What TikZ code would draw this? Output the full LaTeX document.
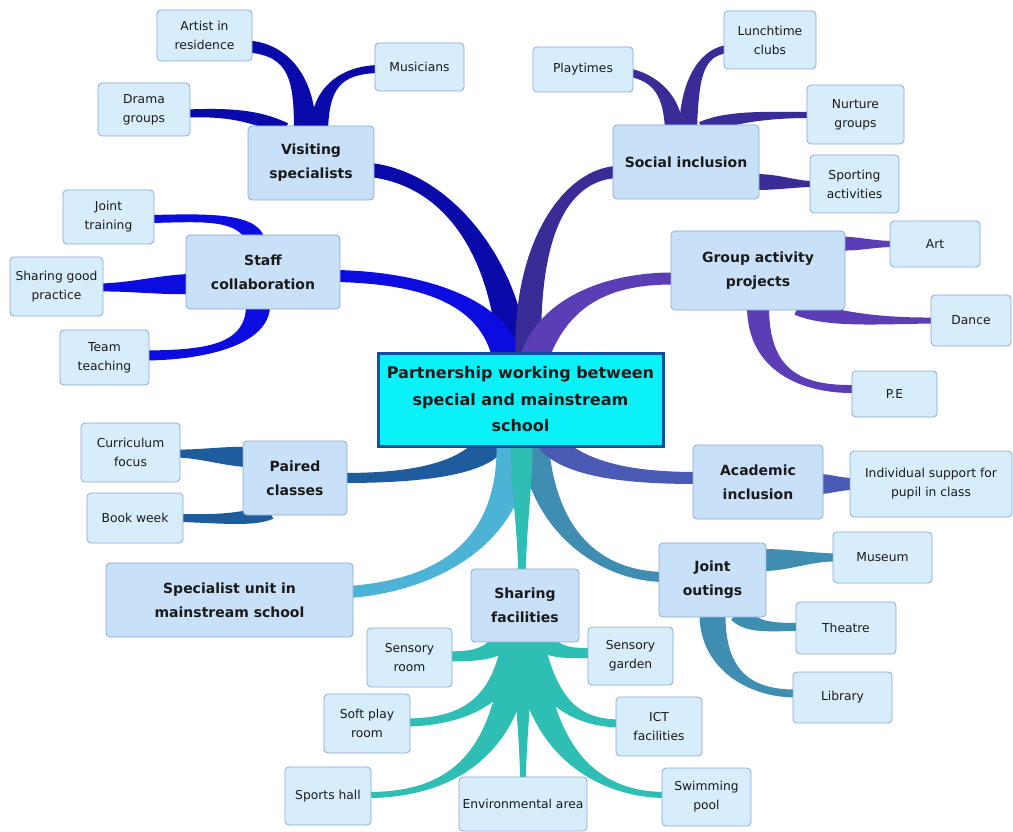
\documentclass[tikz,border=0pt]{standalone}
\usepackage{fontspec}
\setmainfont{DejaVu Sans}
\usetikzlibrary{calc,backgrounds}

\definecolor{cVis}{HTML}{0A0AAA}
\definecolor{cStaff}{HTML}{0C0CE0}
\definecolor{cSoc}{HTML}{3A2C96}
\definecolor{cGrp}{HTML}{5B3DB5}
\definecolor{cPair}{HTML}{1F5C9E}
\definecolor{cAcad}{HTML}{4B5BB5}
\definecolor{cSpec}{HTML}{4DB3D6}
\definecolor{cShare}{HTML}{2FBEB4}
\definecolor{cJoint}{HTML}{3F8DB0}
\definecolor{subfill}{HTML}{D7EDFC}
\definecolor{mainfill}{HTML}{C9E1F8}
\definecolor{boxline}{HTML}{8AAAD8}
\definecolor{hubfill}{HTML}{0AF2F8}
\definecolor{hubline}{HTML}{1050A0}
\definecolor{ink}{HTML}{1A1A1A}

% tapered branch: colour, start, control 1, control 2, end, half width at start, half width at end
\newcommand\limb[7]{%
  \coordinate (lS) at (#2); \coordinate (lA) at (#3);
  \coordinate (lB) at (#4); \coordinate (lE) at (#5);
  \coordinate (lS1) at ($(lS)!#6!90:(lA)$);
  \coordinate (lS2) at ($(lS)!#6!-90:(lA)$);
  \coordinate (lE1) at ($(lE)!#7!-90:(lB)$);
  \coordinate (lE2) at ($(lE)!#7!90:(lB)$);
  \fill[#1] (lS1) .. controls ($(lA)+(lS1)-(lS)$) and ($(lB)+(lE1)-(lE)$) .. (lE1)
    -- (lE2) .. controls ($(lB)+(lE2)-(lE)$) and ($(lA)+(lS2)-(lS)$) .. (lS2) -- cycle;
}

\tikzset{
  box/.style={draw=boxline, line width=0.8pt, rounded corners=4pt, align=center,
    text=ink, inner sep=2pt},
  leaf/.style={box, fill=subfill, font=\fontsize{12.3}{19}\selectfont},
  topic/.style={box, fill=mainfill, font=\fontsize{14}{24}\selectfont\bfseries},
  hub/.style={draw=hubline, line width=3pt, fill=hubfill, align=center, text=ink,
    font=\fontsize{16}{26.5}\selectfont\bfseries},
}

\begin{document}
\begin{tikzpicture}[x=1pt,y=-1pt]
\useasboundingbox (0,0) rectangle (1013,832);

% central topic
\node[hub, minimum width=285pt, minimum height=93pt] (c) at (520.5,399.5)
  {Partnership working between\\special and mainstream\\school};

% main topics
\node[topic, minimum width=126pt, minimum height=74pt] (vs) at (311,163) {Visiting\\specialists};
\node[topic, minimum width=154pt, minimum height=74pt] (sc) at (263,272) {Staff\\collaboration};
\node[topic, minimum width=146pt, minimum height=74pt] (si) at (686,162) {Social inclusion};
\node[topic, minimum width=174pt, minimum height=79pt] (ga) at (758,270.5) {Group activity\\projects};
\node[topic, minimum width=104pt, minimum height=74pt] (pc) at (295,478) {Paired\\classes};
\node[topic, minimum width=247pt, minimum height=74pt] (su) at (229.5,600) {Specialist unit in\\mainstream school};
\node[topic, minimum width=108pt, minimum height=73pt] (sf) at (525,605.5) {Sharing\\facilities};
\node[topic, minimum width=107pt, minimum height=74pt] (jo) at (712.5,580) {Joint\\outings};
\node[topic, minimum width=130pt, minimum height=74pt] (ai) at (758,482) {Academic\\inclusion};

% subtopics
\node[leaf, minimum width=95pt, minimum height=51pt] (ar) at (204.5,35.5) {Artist in\\residence};
\node[leaf, minimum width=89pt, minimum height=48pt] (mu) at (419.5,67) {Musicians};
\node[leaf, minimum width=92pt, minimum height=53pt] (dr) at (144,109.5) {Drama\\groups};
\node[leaf, minimum width=91pt, minimum height=54pt] (jt) at (108.5,217) {Joint\\training};
\node[leaf, minimum width=93pt, minimum height=59pt] (sg) at (56.5,286.5) {Sharing good\\practice};
\node[leaf, minimum width=89pt, minimum height=55pt] (tt) at (104.5,357.5) {Team\\teaching};
\node[leaf, minimum width=100pt, minimum height=45pt] (pt) at (583,69.5) {Playtimes};
\node[leaf, minimum width=92pt, minimum height=58pt] (lc) at (770,40) {Lunchtime\\clubs};
\node[leaf, minimum width=97pt, minimum height=59pt] (ng) at (855.5,114.5) {Nurture\\groups};
\node[leaf, minimum width=89pt, minimum height=58pt] (sa) at (854.5,184) {Sporting\\activities};
\node[leaf, minimum width=90pt, minimum height=46pt] (at) at (935,244) {Art};
\node[leaf, minimum width=80pt, minimum height=51pt] (da) at (971,320.5) {Dance};
\node[leaf, minimum width=85pt, minimum height=46pt] (pe) at (894.5,394) {P.E};
\node[leaf, minimum width=99pt, minimum height=59pt] (cf) at (130.5,452.5) {Curriculum\\focus};
\node[leaf, minimum width=96pt, minimum height=50pt] (bw) at (135,518) {Book week};
\node[leaf, minimum width=162pt, minimum height=66pt] (is) at (931,484) {Individual support for\\pupil in class};
\node[leaf, minimum width=99pt, minimum height=51pt] (mm) at (882.5,557.5) {Museum};
\node[leaf, minimum width=100pt, minimum height=52pt] (th) at (846,628) {Theatre};
\node[leaf, minimum width=99pt, minimum height=51pt] (lb) at (842.5,697.5) {Library};
\node[leaf, minimum width=85pt, minimum height=59pt] (sr) at (409.5,657.5) {Sensory\\room};
\node[leaf, minimum width=85pt, minimum height=58pt] (sgd) at (630.5,656) {Sensory\\garden};
\node[leaf, minimum width=86pt, minimum height=59pt] (sp) at (367,723.5) {Soft play\\room};
\node[leaf, minimum width=86pt, minimum height=59pt] (ic) at (659,726.5) {ICT\\facilities};
\node[leaf, minimum width=86pt, minimum height=58pt] (sh) at (328,796) {Sports hall};
\node[leaf, minimum width=89pt, minimum height=58pt] (sw) at (706.5,797) {Swimming\\pool};
\node[leaf, minimum width=128pt, minimum height=54pt] (ea) at (523,804) {Environmental area};

\begin{scope}[on background layer]
\fill[white] (0,0) rectangle (1013,832);
% branches from the central topic
\limb{cVis}{$(c.north)+(-8,6)$}{508,270}{455,180}{$(vs.east)+(-4,7)$}{15pt}{7pt}
\limb{cStaff}{$(c.north)+(-14,6)$}{495,305}{430,278}{$(sc.east)+(-4,4)$}{14pt}{6pt}
\limb{cSoc}{$(c.north)+(8,6)$}{525,240}{565,175}{$(si.west)+(4,10)$}{13pt}{6pt}
\limb{cGrp}{$(c.north)+(14,6)$}{555,300}{610,278}{$(ga.west)+(4,8)$}{14pt}{6pt}
\limb{cPair}{$(c.south)+(-28,-6)$}{475,468}{420,478}{$(pc.east)+(-4,0)$}{14pt}{5pt}
\limb{cSpec}{$(c.south)+(-8,-6)$}{515,540}{440,585}{$(su.east)+(-4,-8)$}{16pt}{6pt}
\limb{cJoint}{$(c.south)+(14,-6)$}{540,520}{590,575}{$(jo.west)+(4,-3)$}{14pt}{5pt}
\limb{cAcad}{$(c.south)+(28,-6)$}{575,470}{630,478}{$(ai.west)+(4,-4)$}{12pt}{6pt}
\limb{cShare}{$(c.south)+(1,-6)$}{521.5,490}{522,530}{$(sf.north)+(-3,4)$}{11pt}{4pt}

% visiting specialists
\limb{cVis}{$(vs.north)+(-6,6)$}{305,80}{290,50}{$(ar.east)+(-4,11)$}{11pt}{6pt}
\limb{cVis}{$(vs.north)+(8,6)$}{320,88}{340,70}{$(mu.west)+(4,2)$}{9pt}{4pt}
\limb{cVis}{$(vs.north)+(-26,4)$}{255,115}{225,112}{$(dr.east)+(-4,4)$}{7pt}{4pt}

% staff collaboration
\limb{cStaff}{$(sc.north)+(-8,4)$}{245,215}{200,218}{$(jt.east)+(-4,2)$}{9pt}{4pt}
\limb{cStaff}{$(sc.west)+(4,12)$}{160,285}{130,287}{$(sg.east)+(-4,1)$}{10pt}{4pt}
\limb{cStaff}{$(sc.south)+(-5,-4)$}{258,345}{205,355}{$(tt.east)+(-4,-2)$}{12pt}{5pt}

% social inclusion
\limb{cSoc}{$(si.north)+(-12,4)$}{672,95}{655,78}{$(pt.east)+(-4,3)$}{9pt}{4pt}
\limb{cSoc}{$(si.north)+(2,4)$}{690,75}{703,52}{$(lc.west)+(4,9)$}{9pt}{4pt}
\limb{cSoc}{$(si.north)+(16,4)$}{730,116}{770,115}{$(ng.west)+(4,0.5)$}{7pt}{3pt}
\limb{cSoc}{$(si.east)+(-4,20)$}{780,182}{795,184}{$(sa.west)+(4,0)$}{8pt}{3pt}

% group activity projects
\limb{cGrp}{$(ga.east)+(-4,-27)$}{860,244}{875,244}{$(at.west)+(4,0)$}{7pt}{3pt}
\limb{cGrp}{$(ga.south)+(40,-4)$}{830,320}{880,321}{$(da.west)+(4,0)$}{9pt}{3pt}
\limb{cGrp}{$(ga.south)+(0,-4)$}{758,370}{800,390}{$(pe.west)+(4,-5)$}{11pt}{4pt}

% paired classes
\limb{cPair}{$(pc.west)+(4,-21)$}{225,456}{200,454}{$(cf.east)+(-4,1)$}{10pt}{4pt}
\limb{cPair}{$(pc.south)+(-25,-4)$}{250,520}{220,519}{$(bw.east)+(-4,0)$}{8pt}{4pt}

% academic inclusion
\limb{cAcad}{$(ai.east)+(-4,2)$}{830,484}{840,484}{$(is.west)+(4,0)$}{10pt}{6pt}

% joint outings
\limb{cJoint}{$(jo.east)+(-4,-20)$}{790,560}{810,557}{$(mm.west)+(4,0)$}{11pt}{4pt}
\limb{cJoint}{$(jo.south)+(25,-4)$}{752,628}{770,627}{$(th.west)+(4,-1)$}{9pt}{4pt}
\limb{cJoint}{$(jo.south)+(0,-4)$}{712,670}{750,694}{$(lb.west)+(4,-4)$}{13pt}{4pt}

% sharing facilities
\limb{cShare}{$(sf.south)+(-20,-4)$}{492,656}{472,656}{$(sr.east)+(-4,-1)$}{10pt}{5pt}
\limb{cShare}{$(sf.south)+(15,-4)$}{553,654}{570,653}{$(sgd.west)+(4,-3)$}{10pt}{5pt}
\limb{cShare}{$(sf.south)+(-10,-4)$}{505,710}{450,722}{$(sp.east)+(-4,-1)$}{13pt}{4pt}
\limb{cShare}{$(sf.south)+(5,-4)$}{545,705}{580,723}{$(ic.west)+(4,-3)$}{13pt}{4pt}
\limb{cShare}{$(sf.south)+(-7,-4)$}{510,765}{440,795}{$(sh.east)+(-4,-1)$}{15pt}{3pt}
\limb{cShare}{$(sf.south)+(3,-4)$}{538,765}{610,795}{$(sw.west)+(4,-2)$}{15pt}{3pt}
\limb{cShare}{$(sf.south)+(-2,-4)$}{523,700}{523,740}{$(ea.north)+(0,4)$}{9pt}{3pt}
\end{scope}
\end{tikzpicture}
\end{document}
